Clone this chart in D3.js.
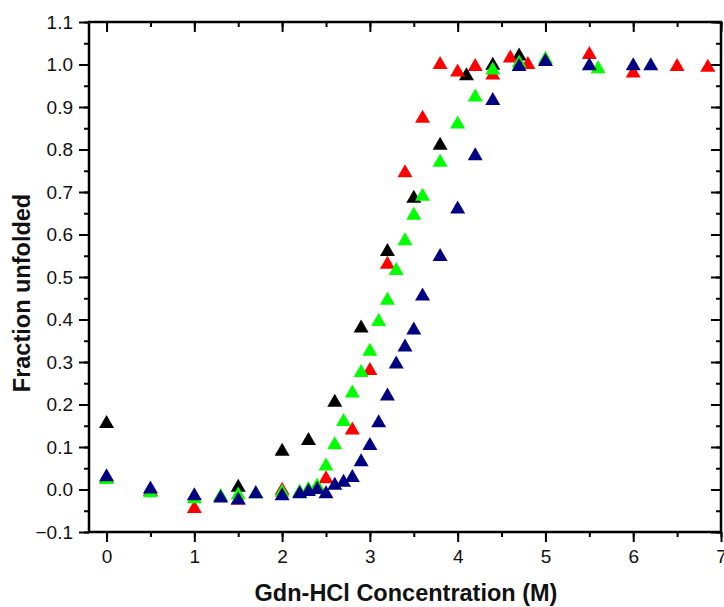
<!DOCTYPE html>
<html><head><meta charset="utf-8">
<script src="https://cdn.jsdelivr.net/npm/d3@7"></script>
<style>body{margin:0;background:#fff}svg{display:block}</style>
</head><body>
<script>
// Data (Gdn-HCl concentration in M, fraction unfolded)
const blackX = [0, 1.5, 2.0, 2.3, 2.6, 2.9, 3.2, 3.5, 3.8, 4.1, 4.4, 4.7];
const blackY = [0.16, 0.01, 0.095, 0.12, 0.21, 0.385, 0.565, 0.69, 0.815, 0.978, 1.003, 1.025];
const redX = [0, 0.5, 1.0, 1.5, 2.0, 2.5, 2.8, 3.0, 3.2, 3.4, 3.6, 3.8, 4.0, 4.2, 4.4, 4.6, 4.8, 5.5, 6.0, 6.5, 6.85];
const redY = [0.03, 0.0, -0.04, -0.02, 0.003, 0.03, 0.145, 0.285, 0.535, 0.75, 0.878, 1.005, 0.987, 1.0, 0.98, 1.02, 1.005, 1.028, 0.985, 1.0, 0.998];
const greenX = [0, 0.5, 1.0, 1.3, 1.5, 1.7, 2.0, 2.2, 2.3, 2.4, 2.5, 2.6, 2.7, 2.8, 2.9, 3.0, 3.1, 3.2, 3.3, 3.4, 3.5, 3.6, 3.8, 4.0, 4.2, 4.4, 4.7, 5.0, 5.6];
const greenY = [0.028, -0.003, -0.017, -0.012, -0.008, -0.005, -0.002, -0.002, 0.005, 0.013, 0.06, 0.11, 0.165, 0.232, 0.28, 0.33, 0.40, 0.45, 0.52, 0.59, 0.65, 0.695, 0.775, 0.865, 0.928, 0.992, 1.008, 1.017, 0.995];
const navyX = [0, 0.5, 1.0, 1.3, 1.5, 1.7, 2.0, 2.2, 2.3, 2.4, 2.5, 2.6, 2.7, 2.8, 2.9, 3.0, 3.1, 3.2, 3.3, 3.4, 3.5, 3.6, 3.8, 4.0, 4.2, 4.4, 4.7, 5.0, 5.5, 6.0, 6.2];
const navyY = [0.035, 0.006, -0.01, -0.015, -0.02, -0.005, -0.01, -0.005, 0.0, 0.005, -0.005, 0.015, 0.022, 0.033, 0.07, 0.108, 0.162, 0.225, 0.30, 0.34, 0.38, 0.46, 0.553, 0.665, 0.79, 0.92, 1.0, 1.012, 1.002, 1.002, 1.002];
const xTicks = [0, 1, 2, 3, 4, 5, 6, 7];
const yTicks = [-0.1, 0.0, 0.1, 0.2, 0.3, 0.4, 0.5, 0.6, 0.7, 0.8, 0.9, 1.0, 1.1];

const series = [
  {xs: blackX, ys: blackY, color: "#000000"},
  {xs: redX, ys: redY, color: "#ff0000"},
  {xs: greenX, ys: greenY, color: "#00ff00"},
  {xs: navyX, ys: navyY, color: "#000080"}
];

const W = 724, H = 607;
const m = {left: 89, right: 3, top: 22, bottom: 75};
const svg = d3.select("body").append("svg").attr("width", W).attr("height", H);
const x = d3.scaleLinear().domain([-0.2, 7]).range([m.left, W - m.right]);
const y = d3.scaleLinear().domain([-0.1, 1.1]).range([H - m.bottom, m.top]);

const font = "Liberation Sans, Arial, sans-serif";
const xMinor = d3.range(0, 7.01, 0.5);
const yMinor = d3.range(-0.1, 1.101, 0.05);

function styleAxis(g) {
  g.select(".domain").remove();
  g.selectAll("line").attr("stroke", "#000").attr("stroke-width", 2);
  g.selectAll("text").attr("font-family", font).attr("font-size", 19).attr("fill", "#111");
}

// minor ticks
svg.append("g").attr("transform", `translate(0,${H - m.bottom})`)
  .call(d3.axisBottom(x).tickValues(xMinor).tickSize(5).tickFormat("")).call(styleAxis);
svg.append("g").attr("transform", `translate(0,${m.top})`)
  .call(d3.axisTop(x).tickValues(xMinor).tickSize(-5).tickFormat("")).call(styleAxis);
svg.append("g").attr("transform", `translate(${m.left},0)`)
  .call(d3.axisLeft(y).tickValues(yMinor).tickSize(5).tickFormat("")).call(styleAxis);
svg.append("g").attr("transform", `translate(${W - m.right},0)`)
  .call(d3.axisRight(y).tickValues(yMinor).tickSize(-5).tickFormat("")).call(styleAxis);

// major ticks
svg.append("g").attr("transform", `translate(0,${H - m.bottom})`)
  .call(d3.axisBottom(x).tickValues(xTicks).tickSize(10).tickPadding(8).tickFormat(d3.format("d"))).call(styleAxis);
svg.append("g").attr("transform", `translate(0,${m.top})`)
  .call(d3.axisTop(x).tickValues(xTicks).tickSize(-10).tickFormat("")).call(styleAxis);
svg.append("g").attr("transform", `translate(${m.left},0)`)
  .call(d3.axisLeft(y).tickValues(yTicks).tickSize(10).tickPadding(6).tickFormat(d3.format(".1f"))).call(styleAxis);
svg.append("g").attr("transform", `translate(${W - m.right},0)`)
  .call(d3.axisRight(y).tickValues(yTicks).tickSize(-10).tickFormat("")).call(styleAxis);

// frame
svg.append("rect").attr("x", m.left).attr("y", m.top)
  .attr("width", W - m.right - m.left).attr("height", H - m.bottom - m.top)
  .attr("fill", "none").attr("stroke", "#000").attr("stroke-width", 2.5);

// triangle marker
const tri = {draw(ctx, size) {
  const w = 7.5, h = 6.5;
  ctx.moveTo(0, -h); ctx.lineTo(w, h); ctx.lineTo(-w, h); ctx.closePath();
}};
const sym = d3.symbol().type(tri).size(1);

series.forEach(s => {
  svg.append("g").selectAll("path").data(s.xs.map((v, i) => [v, s.ys[i]])).join("path")
    .attr("d", sym)
    .attr("transform", d => `translate(${x(d[0])},${y(d[1])})`)
    .attr("fill", s.color);
});

// labels
svg.append("text").attr("x", 406).attr("y", 601)
  .attr("text-anchor", "middle").attr("font-family", font).attr("font-weight", "bold")
  .attr("font-size", 23.5).attr("fill", "#111").text("Gdn-HCl Concentration (M)");
svg.append("text").attr("transform", `translate(30,${293}) rotate(-90)`)
  .attr("text-anchor", "middle").attr("font-family", font).attr("font-weight", "bold")
  .attr("font-size", 23.5).attr("fill", "#111").text("Fraction unfolded");
</script>
</body></html>
